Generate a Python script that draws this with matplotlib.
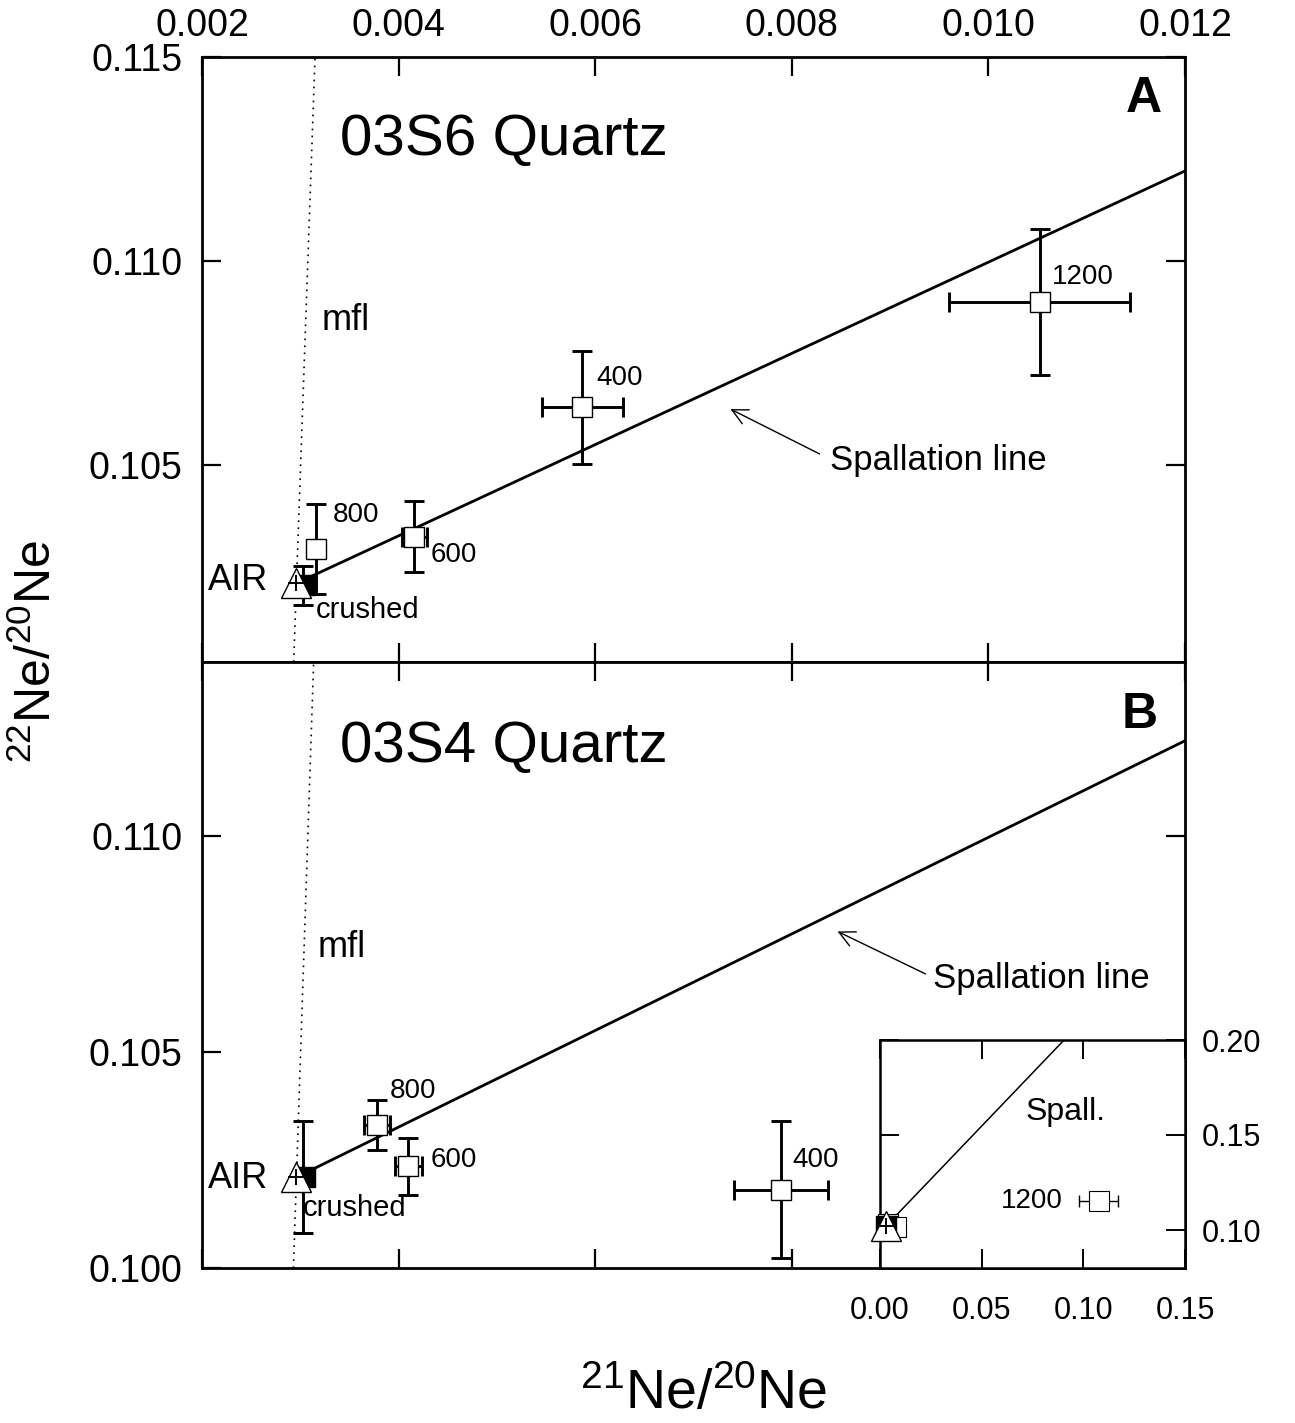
import matplotlib
matplotlib.use("Agg")
import matplotlib.pyplot as plt
from matplotlib.ticker import FormatStrFormatter

plt.rcParams['font.family'] = ['Liberation Sans', 'DejaVu Sans']
plt.rcParams['mathtext.fontset'] = 'custom'
plt.rcParams['mathtext.rm'] = 'Liberation Sans'
plt.rcParams['mathtext.it'] = 'Liberation Sans:italic'
plt.rcParams['mathtext.bf'] = 'Liberation Sans:bold'

# ── Data ─────────────────────────────────────────────────────────────────────
AIR = (0.00296, 0.1021)
SPALL_SLOPE = 1.118          # d(22/20)/d(21/20)
MFL_Y = [0.100, 0.115]       # mass fractionation line end points
MFL_X = [0.00293, 0.00315]

# panel A: 03S6 quartz, step heating (deg C)
A_steps = ['800', '600', '400', '1200']
A_x = [0.00316, 0.00416, 0.00587, 0.01052]
A_xerr = [0.00005, 0.00013, 0.00041, 0.00092]
A_y = [0.10294, 0.10324, 0.10641, 0.10900]
A_yerr = [0.00110, 0.00087, 0.00138, 0.00179]
A_crushed = [0.00305, 0.10205]
A_crushed_yerr = 0.00048

# panel B: 03S4 quartz
B_steps = ['800', '600', '400', '1200']
B_x = [0.00378, 0.00410, 0.00789, 0.1075]
B_xerr = [0.00013, 0.00014, 0.00048, 0.0094]
B_y = [0.10331, 0.10236, 0.10181, 0.1153]
B_yerr = [0.00057, 0.00066, 0.00159, 0.0020]
B_crushed = [0.00305, 0.1021]
B_crushed_yerr = 0.0013

# label anchors (left edge, vertical centre) in data coords
A_lab_pos = [(0.00333, 0.10377), (0.00433, 0.10279), (0.00601, 0.10713), (0.01065, 0.10961)]
B_lab_pos = [(0.00391, 0.10410), (0.00433, 0.10250), (0.00801, 0.10250)]

SQ = dict(marker='s', ms=15, mfc='white', mec='black', mew=1.0, ls='none', zorder=5)
EB = dict(fmt='none', ecolor='black', elinewidth=2.1, capsize=7.5, capthick=2.1, zorder=4)

W, H = 1295, 1423
fig = plt.figure(figsize=(W / 100, H / 100), dpi=100)
L, R = 202 / W, 1185 / W
ax1 = fig.add_axes([L, (H - 662) / H, R - L, 605 / H])
ax2 = fig.add_axes([L, (H - 1268) / H, R - L, 606 / H])


def style(ax, yticks):
    ax.set_xlim(0.002, 0.012)
    ax.set_xticks([0.002, 0.004, 0.006, 0.008, 0.010, 0.012])
    ax.set_yticks(yticks)
    ax.yaxis.set_major_formatter(FormatStrFormatter('%.3f'))
    ax.xaxis.set_major_formatter(FormatStrFormatter('%.3f'))
    ax.tick_params(direction='in', length=14, width=1.6, top=True, right=True,
                   labelsize=27, pad=14)
    for s in ax.spines.values():
        s.set_linewidth(2)


def draw_common(ax, crushed, crushed_yerr):
    xs = [AIR[0], 0.012]
    ax.plot(xs, [AIR[1] + SPALL_SLOPE * (x - AIR[0]) for x in xs],
            color='black', lw=2.0, zorder=2)
    ax.plot(MFL_X, MFL_Y, color='black', lw=1.2, ls=(0, (1, 3.2)), zorder=1)
    ax.errorbar(crushed[0] - 0.00002, crushed[1], yerr=crushed_yerr, **EB)
    ax.plot(*crushed, marker='s', ms=15, color='black', ls='none', zorder=6)
    ax.plot(*AIR, marker='^', ms=22, mfc='white', mec='black', mew=1.0, ls='none', zorder=7)
    ax.plot(*AIR, marker='+', ms=12, mew=1.4, color='black', ls='none', zorder=8)


# ── Panel A ──────────────────────────────────────────────────────────────────
style(ax1, [0.105, 0.110, 0.115])
ax1.set_ylim(0.10017, 0.115)
ax1.tick_params(labeltop=True, labelbottom=False)
ax1.tick_params(axis='x', pad=9)
draw_common(ax1, A_crushed, A_crushed_yerr)
ax1.errorbar(A_x, A_y, xerr=A_xerr, yerr=A_yerr, **EB)
ax1.plot(A_x, A_y, **SQ)
for name, (tx, ty) in zip(A_steps, A_lab_pos):
    ax1.text(tx, ty, name, fontsize=20, va='center', ha='left')
ax1.text(0.002671, 0.10218, 'AIR', fontsize=26, va='center', ha='right')
ax1.text(0.00316, 0.10145, 'crushed', fontsize=21, va='center', ha='left')
ax1.text(0.00322, 0.10855, 'mfl', fontsize=26, va='center', ha='left')
ax1.text(0.003404, 0.11297, '03S6 Quartz', fontsize=42, va='center', ha='left')
ax1.text(0.958, 0.115 - (99 - 57) / 40800, 'A', fontsize=36, fontweight='bold',
         va='center', ha='center', transform=ax1.get_yaxis_transform())
ax1.text(0.008389, 0.10512, 'Spallation line', fontsize=25, va='center', ha='left')
ax1.annotate('', xy=(0.007351, 0.10640), xytext=(0.008307, 0.10524),
             arrowprops=dict(arrowstyle='->', lw=1.0, color='black', mutation_scale=28))

# ── Panel B ──────────────────────────────────────────────────────────────────
style(ax2, [0.100, 0.105, 0.110])
ax2.set_ylim(0.100, 0.11403)
ax2.tick_params(labeltop=False, labelbottom=False)
draw_common(ax2, B_crushed, B_crushed_yerr)
ax2.errorbar(B_x[:3], B_y[:3], xerr=B_xerr[:3], yerr=B_yerr[:3], **EB)
ax2.plot(B_x[:3], B_y[:3], **SQ)
for name, (tx, ty) in zip(B_steps[:3], B_lab_pos):
    ax2.text(tx, ty, name, fontsize=20, va='center', ha='left')
ax2.text(0.002671, 0.10208, 'AIR', fontsize=26, va='center', ha='right')
ax2.text(0.00303, 0.10139, 'crushed', fontsize=21, va='center', ha='left')
ax2.text(0.00318, 0.10741, 'mfl', fontsize=26, va='center', ha='left')
ax2.text(0.003404, 0.11206, '03S4 Quartz', fontsize=42, va='center', ha='left')
ax2.text(0.954, 0.1128, 'B', fontsize=36, fontweight='bold', va='center', ha='center',
         transform=ax2.get_yaxis_transform())
ax2.text(0.009436, 0.10671, 'Spallation line', fontsize=25, va='center', ha='left')
ax2.annotate('', xy=(0.00844, 0.10782), xytext=(0.009386, 0.10678),
             arrowprops=dict(arrowstyle='->', lw=1.0, color='black', mutation_scale=28))

# ── Inset (full range, shows 1200 step) ──────────────────────────────────────
ins = fig.add_axes([880 / W, (H - 1268) / H, (1185 - 880) / W, 228 / H])
ins.set_xlim(0, 0.15)
ins.set_ylim(0.08, 0.20)
ins.set_xticks([0.00, 0.05, 0.10, 0.15])
ins.set_yticks([0.10, 0.15, 0.20])
ins.xaxis.set_major_formatter(FormatStrFormatter('%.2f'))
ins.yaxis.set_major_formatter(FormatStrFormatter('%.2f'))
ins.tick_params(direction='in', length=14, width=1.4, top=True, right=True,
                left=True, labelleft=False, labelright=True, labelsize=22)
ins.tick_params(axis='x', pad=20)
ins.tick_params(axis='y', pad=12)
for s in ins.spines.values():
    s.set_linewidth(1.8)
xs = [AIR[0], 0.15]
ins.plot(xs, [AIR[1] + SPALL_SLOPE * (x - AIR[0]) for x in xs], color='black', lw=1.1, zorder=2)
ins.errorbar(B_x[3], B_y[3], xerr=B_xerr[3], fmt='none', ecolor='black',
             elinewidth=1.0, capsize=4.5, capthick=1.0, zorder=4)
ins.plot(B_x, B_y, marker='s', ms=15, mfc='white', mec='black', mew=0.8, ls='none',
         zorder=5, clip_on=False)
ins.plot(*B_crushed, marker='s', ms=15, color='black', ls='none', zorder=6, clip_on=False)
ins.plot(*AIR, marker='^', ms=22, mfc='white', mec='black', mew=1.0, ls='none',
         zorder=7, clip_on=False)
ins.plot(*AIR, marker='+', ms=12, mew=1.4, color='black', ls='none', zorder=8, clip_on=False)
ins.text(0.090, 0.1153, '1200', fontsize=20, va='center', ha='right')
ins.text(0.091, 0.1621, 'Spall.', fontsize=23, va='center', ha='center')

# ── Axis titles ──────────────────────────────────────────────────────────────
fig.text(37 / W, 1 - 652 / H, r'$^{\mathregular{22}}$Ne/$^{\mathregular{20}}$Ne',
         fontsize=36, rotation=90, ha='center', va='center')
fig.text(704 / W, 1 - 1395 / H, r'$^{\mathregular{21}}$Ne/$^{\mathregular{20}}$Ne',
         fontsize=40, ha='center', va='center')

fig.savefig('out.png', dpi=100)
